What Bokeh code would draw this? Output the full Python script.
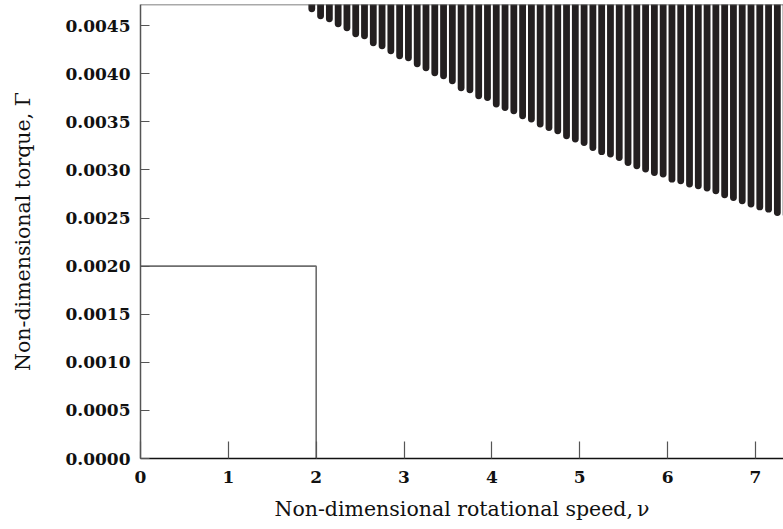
from bokeh.plotting import figure
from bokeh.models import Range1d, FixedTicker, PrintfTickFormatter, Span
from bokeh.embed import file_html
from bokeh.resources import INLINE

# ---- data ----
x_ticks = [0, 1, 2, 3, 4, 5, 6, 7]
y_ticks = [0.0, 0.0005, 0.0010, 0.0015, 0.0020, 0.0025, 0.0030, 0.0035, 0.0040, 0.0045]

# limit box (outline)
box_x = [0, 2, 2]
box_y = [0.0020, 0.0020, 0.0]

# stripes of the dense region: speed and lower torque boundary
stripe_v = [1.95, 2.05, 2.15, 2.25, 2.35, 2.45, 2.55, 2.65, 2.75, 2.85,
            2.95, 3.05, 3.15, 3.25, 3.35, 3.45, 3.55, 3.65, 3.75, 3.85,
            3.95, 4.05, 4.15, 4.25, 4.35, 4.45, 4.55, 4.65, 4.75, 4.85,
            4.95, 5.05, 5.15, 5.25, 5.35, 5.45, 5.55, 5.65, 5.75, 5.85,
            5.95, 6.05, 6.15, 6.25, 6.35, 6.45, 6.55, 6.65, 6.75, 6.85,
            6.95, 7.05, 7.15, 7.25, 7.35]
stripe_low = [0.004676, 0.004603, 0.004572, 0.004520, 0.004478, 0.004416, 0.004395, 0.004322, 0.004291, 0.004239,
              0.004187, 0.004166, 0.004104, 0.004062, 0.004010, 0.003979, 0.003927, 0.003854, 0.003833, 0.003771,
              0.003753, 0.003685, 0.003649, 0.003615, 0.003563, 0.003529, 0.003477, 0.003441, 0.003407, 0.003355,
              0.003321, 0.003285, 0.003233, 0.003190, 0.003165, 0.003129, 0.003077, 0.003043, 0.003009, 0.002973,
              0.002957, 0.002904, 0.002887, 0.002853, 0.002835, 0.002811, 0.002783, 0.002741, 0.002713, 0.002679,
              0.002645, 0.002616, 0.002592, 0.002557, 0.002540]

X_END = 7.32
Y_END = 0.00472

p = figure(width=783, height=529, output_backend="svg", toolbar_location=None,
           x_range=Range1d(0, X_END), y_range=Range1d(0, Y_END),
           min_border_left=140, min_border_right=0, min_border_top=4, min_border_bottom=71)
p.outline_line_color = None
p.grid.visible = False
p.background_fill_color = "white"
p.border_fill_color = "white"

stripe_top = [Y_END * 1.02] * len(stripe_v)
p.segment(x0=stripe_v, y0=stripe_low, x1=stripe_v, y1=stripe_top,
          line_color="#231f20", line_width=6.8, line_cap="round")

p.line(box_x, box_y, line_color="#6e6e6e", line_width=1.6)

p.add_layout(Span(location=Y_END, dimension="width", line_color="#555555", line_width=1.5))

serif = "DejaVu Serif"

p.xaxis.ticker = FixedTicker(ticks=x_ticks)
p.yaxis.ticker = FixedTicker(ticks=y_ticks)
p.yaxis.formatter = PrintfTickFormatter(format="%.4f")
for ax in (p.xaxis, p.yaxis):
    ax.minor_tick_line_color = None
    ax.major_tick_out = 0
    ax.axis_line_width = 1.5
    ax.major_tick_line_color = "#555555"
    ax.major_tick_line_width = 1.2
    ax.major_label_text_font = serif
    ax.major_label_text_font_style = "bold"
    ax.major_label_text_font_size = "17px"
    ax.major_label_text_color = "#111111"
    ax.axis_label_text_font = serif
    ax.axis_label_text_font_style = "normal"
    ax.axis_label_text_font_size = "20.5px"
    ax.axis_label_text_color = "#111111"
p.xaxis.axis_line_color = "#111111"
p.yaxis.axis_line_color = "#555555"
p.xaxis.major_tick_in = 17
p.yaxis.major_tick_in = 9
p.xaxis.major_label_standoff = 12
p.yaxis.major_label_standoff = 10
p.xaxis.axis_label = "Non-dimensional rotational speed,\u2009\u03bd"
p.yaxis.axis_label = "Non-dimensional torque, \u0393"
p.xaxis.axis_label_standoff = 11
p.yaxis.axis_label_standoff = 27

open("out.html", "w").write(file_html(p, INLINE))
